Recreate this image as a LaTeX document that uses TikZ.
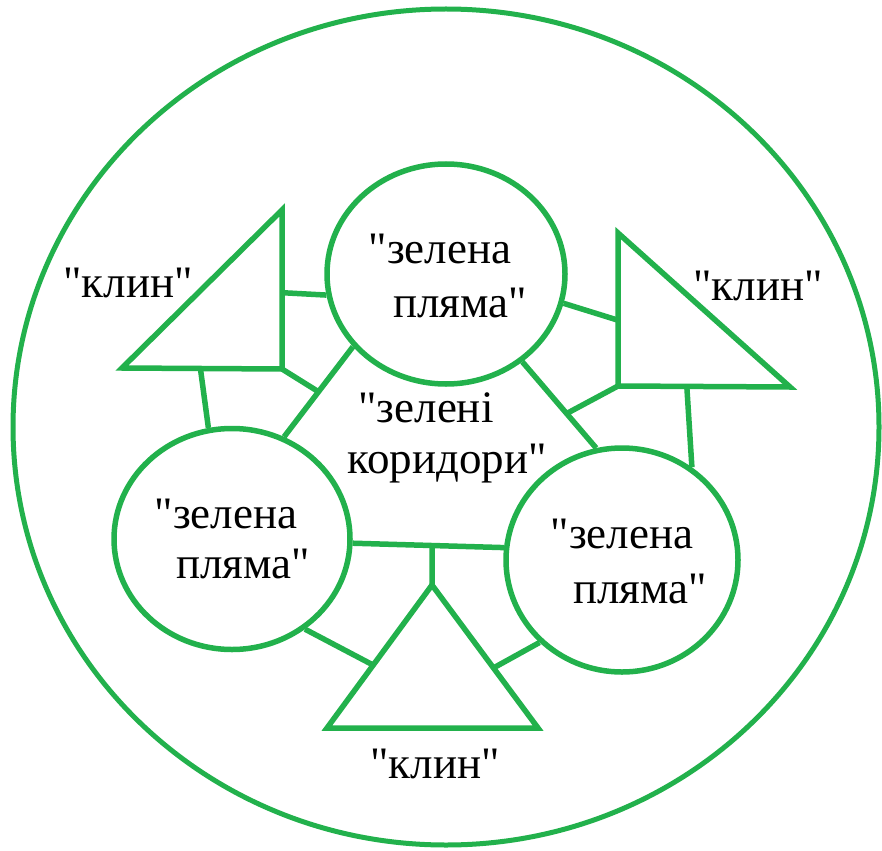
\documentclass[tikz,border=0pt]{standalone}
\usepackage{fontspec}
\newfontfamily\lblfont{LiberationSerif-Regular.ttf}[Ligatures=TeXOff]
\usetikzlibrary{shapes.geometric,calc}
\definecolor{pgreen}{RGB}{34,177,76}
\begin{document}
\begin{tikzpicture}[x=1pt,y=-1pt,
  spot/.style={ellipse, draw=pgreen, line width=5.5pt, inner sep=0pt, minimum width=236pt, minimum height=221pt},
  lbl/.style={anchor=base, font=\lblfont\fontsize{45}{53}\selectfont, inner sep=0pt, text=black},
  link/.style={draw=pgreen, line width=5.5pt},
  wedgeshape/.style={draw=pgreen, line width=5.5pt, line join=miter}]
\useasboundingbox (0,0) rectangle (882,850);
% outer area
\node[spot, minimum width=866pt, minimum height=836pt, line width=5pt] (outer) at (446,427) {};
% green spots
\node[spot, minimum width=238pt, minimum height=220pt] (top) at (446,274) {};
\node[spot] (bl) at (232,539) {};
\node[spot, minimum width=232pt, minimum height=224pt] (br) at (622,560) {};
% wedges
\coordinate (LTa) at (282,210);
\coordinate (LTb) at (122,368);
\coordinate (LTc) at (282,369);
\coordinate (RTa) at (618,233);
\coordinate (RTb) at (618,386);
\coordinate (RTc) at (790,387);
\coordinate (BTa) at (432,585);
\coordinate (BTb) at (327,728);
\coordinate (BTc) at (538,728);
\draw[wedgeshape] (LTa) -- (LTb) -- (LTc) -- cycle;
\draw[wedgeshape] (RTa) -- (RTb) -- (RTc) -- cycle;
\draw[wedgeshape] (BTa) -- (BTb) -- (BTc) -- cycle;
% points on wedge sides
\coordinate (LTr) at ($(LTa)!0.52!(LTc)$);
\coordinate (LTm) at ($(LTb)!0.49!(LTc)$);
\coordinate (RTl) at ($(RTa)!0.57!(RTb)$);
\coordinate (RTm) at ($(RTb)!0.40!(RTc)$);
\coordinate (BTl) at ($(BTa)!0.56!(BTb)$);
\coordinate (BTr) at ($(BTa)!0.58!(BTc)$);
% junctions on corridors
\coordinate (jL) at ($(top.218)!0.5!(bl.63)$);
\coordinate (jR) at ($(top.311)!0.6!(br.103)$);
\coordinate (jB) at ($(bl.358)!0.525!(br.174)$);
% corridors
\draw[link] (LTr) -- (top.190);
\draw[link] (LTm) -- (bl.102);
\draw[link] (top.218) -- (jL) -- (bl.63);
\draw[link] (LTc) -- (jL);
\draw[link] (top.346) -- (RTl);
\draw[link] (top.311) -- (jR) -- (br.103);
\draw[link] (RTb) -- (jR);
\draw[link] (RTm) -- (br.53);
\draw[link] (bl.358) -- (jB) -- (br.174);
\draw[link] (jB) -- (BTa);
\draw[link] (bl.309) -- (BTl);
\draw[link] (BTr) -- (br.225);
% labels
\node[lbl] (t1) at (440,263) {"зелена};
\node[lbl] (t2) at (460,317) {пляма"};
\node[lbl] (l1) at (226,528) {"зелена};
\node[lbl] (l2) at (243,578) {пляма"};
\node[lbl] (r1) at (622,548) {"зелена};
\node[lbl] (r2) at (640,603) {пляма"};
\node[lbl] (c1) at (426,422) {"зелені};
\node[lbl] (c2) at (447,473) {коридори"};
\node[lbl] (k1) at (128,297) {"клин"};
\node[lbl] (k2) at (758,300) {"клин"};
\node[lbl] (k3) at (435,778) {"клин"};
\end{tikzpicture}
\end{document}
